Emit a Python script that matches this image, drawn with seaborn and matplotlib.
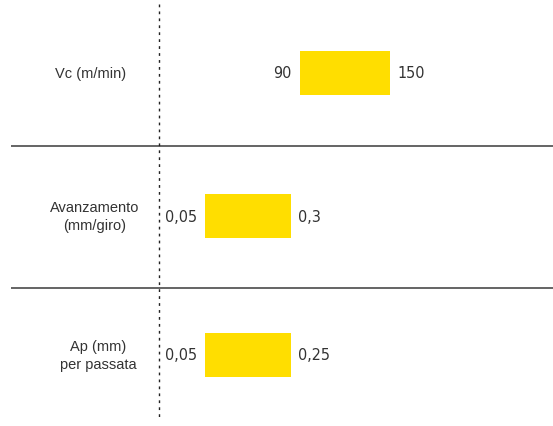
import matplotlib
matplotlib.use("Agg")
import matplotlib.pyplot as plt
from matplotlib import font_manager
import seaborn as sns
import pandas as pd

# ---- data ----
categories = ["Vc (m/min)", "Avanzamento\n(mm/giro)", "Ap (mm)\nper passata"]
min_values = [90, 0.05, 0.05]
max_values = [150, 0.3, 0.25]

# ---- layout (pixels) ----
W, H = 553, 427
bar_px_x = [(300, 390), (205, 291), (205, 291)]
bar_px_y = [(52, 96), (195, 239), (334, 378)]
label_x = [91, 95, 98]
sep_y = [146.5, 288.5]
dotted_x = 158.5

sns.set_theme(style="white")
plt.rcParams["font.family"] = ["Liberation Sans", "DejaVu Sans"]
text_color = "#333333"
yellow = "#FFDE00"

# find a condensed face for the value labels if one is installed
cond = [f for f in font_manager.fontManager.ttflist
        if ("narrow" in f.fname.lower() or "condensed" in f.fname.lower())
        and "bold" not in f.fname.lower() and "italic" not in f.fname.lower()
        and "oblique" not in f.fname.lower()]
pref = sorted(cond, key=lambda f: (0 if "liberation" in f.fname.lower() else 1))
if pref:
    value_font = dict(fontproperties=font_manager.FontProperties(fname=pref[0].fname, size=11.5))
else:
    value_font = dict(fontsize=11, family=["Liberation Sans", "DejaVu Sans"])

fig = plt.figure(figsize=(W / 100, H / 100), dpi=100)
fig.patch.set_facecolor("white")

bg = fig.add_axes([0, 0, 1, 1])
bg.set_xlim(0, W)
bg.set_ylim(H, 0)
bg.axis("off")
for y in sep_y:
    bg.plot([11, W], [y, y], color="#3a3a3a", lw=1.1, solid_capstyle="butt")
bg.plot([dotted_x, dotted_x], [5, 421], color="#222222", lw=1.0,
        linestyle=(0, (2, 3)))

def fmt(v):
    return f"{v:g}".replace(".", ",")

for i, cat in enumerate(categories):
    (x0, x1), (y0, y1) = bar_px_x[i], bar_px_y[i]
    lo, hi = min_values[i], max_values[i]
    s = (hi - lo) / (x1 - x0)
    ax = fig.add_axes([0, (H - y1) / H, 1, (y1 - y0) / H])
    df = pd.DataFrame({"cat": [cat], "span": [hi - lo]})
    sns.barplot(data=df, x="span", y="cat", orient="h", left=[lo], width=1.0,
                color=yellow, saturation=1, ax=ax, linewidth=0)
    ax.set_xlim(lo - x0 * s, lo + (W - x0) * s)
    ax.set_ylim(0.5, -0.5)
    ax.axis("off")
    ax.patch.set_alpha(0)
    ax.annotate(fmt(lo), (lo, 0), xytext=(-6, 0), textcoords="offset points",
                ha="right", va="center", color=text_color, **value_font)
    ax.annotate(fmt(hi), (hi, 0), xytext=(5, 0), textcoords="offset points",
                ha="left", va="center", color=text_color, **value_font)
    bg.text(label_x[i], (y0 + y1) / 2, cat, ha="center", va="center",
            multialignment="center", fontsize=10.5, color=text_color,
            linespacing=1.3)

fig.savefig("out.png", dpi=100, facecolor="white")
